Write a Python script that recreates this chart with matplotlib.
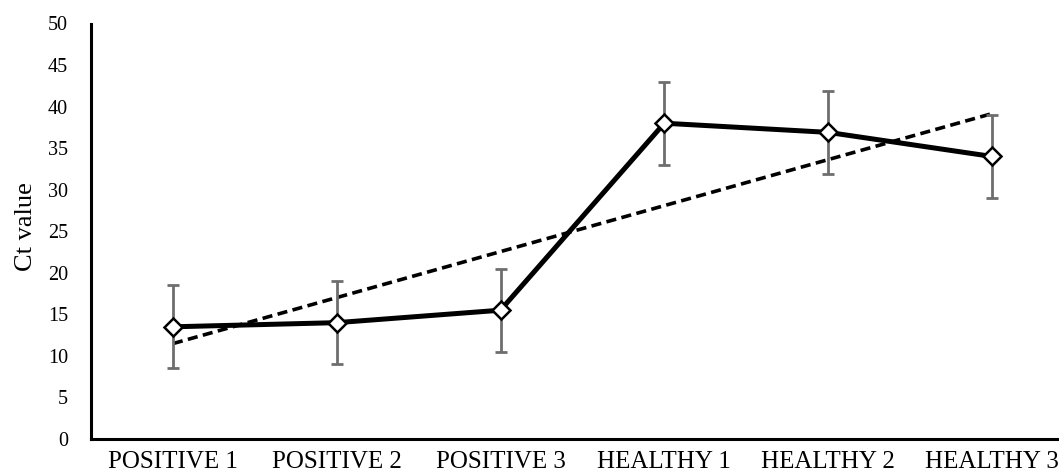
import numpy as np
import matplotlib
matplotlib.use("Agg")
import matplotlib.pyplot as plt

# Sample groups and their mean Ct values with error margins
categories = ["POSITIVE 1", "POSITIVE 2", "POSITIVE 3", "HEALTHY 1", "HEALTHY 2", "HEALTHY 3"]
ct_values = [13.5, 14.0, 15.5, 38.0, 36.9, 34.0]
ct_errors = [5, 5, 5, 5, 5, 5]
y_ticks = [0, 5, 10, 15, 20, 25, 30, 35, 40, 45, 50]

plt.rcParams["font.family"] = ["Liberation Serif", "DejaVu Serif"]

W, H = 1059, 474
fig = plt.figure(figsize=(W / 100, H / 100), dpi=100)
left_px, right_px, top_px, bottom_px = 91, 1059, 23.5, 439
ax_h = bottom_px - top_px
ax = fig.add_axes([left_px / W, (H - bottom_px) / H,
                   (right_px - left_px) / W, ax_h / H])

x = np.arange(1, len(categories) + 1)

# linear trendline over the group means
slope, intercept = np.polyfit(x, ct_values, 1)
ax.plot(x, slope * x + intercept, color="black", lw=2.6,
        linestyle=(0, (2.8, 1.5)), zorder=2)

ax.errorbar(x, ct_values, yerr=ct_errors, fmt="none", ecolor="#6e6e6e",
            elinewidth=2.0, capsize=4.5, capthick=2.0, zorder=3)
ax.plot(x, ct_values, color="black", lw=3.6, marker="D", markersize=9,
        markerfacecolor="white", markeredgecolor="black", markeredgewidth=1.8,
        zorder=4)

ax.set_ylim(0, 50)
ax.set_yticks(y_ticks)
spacing = 163.8
ax.set_xlim(0.5, 0.5 + (right_px - left_px) / spacing)
ax.set_xticks(x)
ax.set_xticklabels(categories, fontsize=18)
ax.tick_params(axis="y", labelsize=14.5, length=0, pad=16.5)
ax.tick_params(axis="x", length=0, pad=8.5)

ax.spines["top"].set_visible(False)
ax.spines["right"].set_visible(False)
ax.spines["left"].set_linewidth(2.2)
ax.spines["bottom"].set_linewidth(2.2)

ax.set_ylabel("Ct value", fontsize=19)
ax.yaxis.set_label_coords(-54 / (right_px - left_px), 0.5 + 5 / ax_h)

fig.savefig("out.png", dpi=100)
